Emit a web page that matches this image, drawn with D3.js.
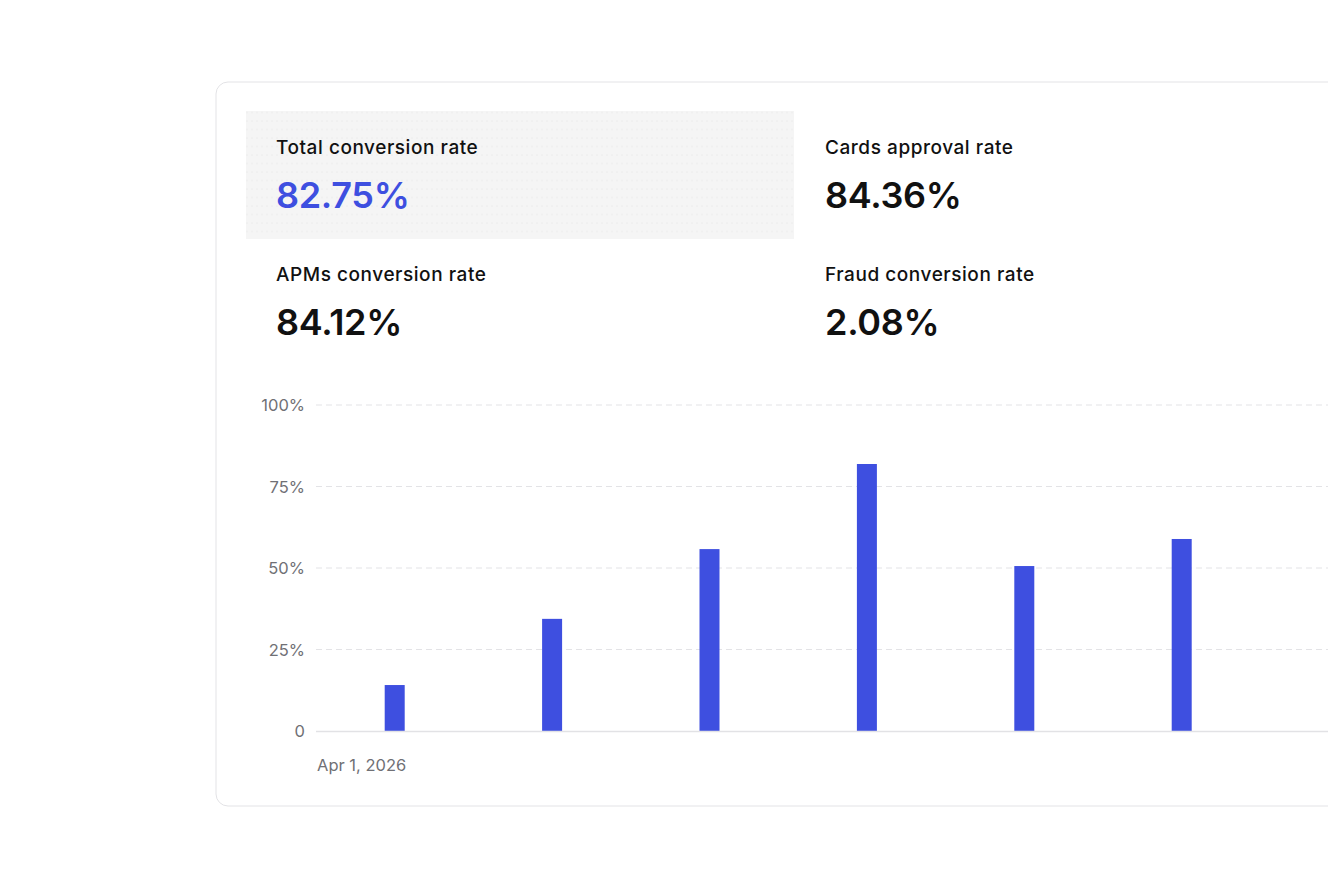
<!DOCTYPE html>
<html><head><meta charset="utf-8">
<script src="https://cdn.jsdelivr.net/npm/d3@7/dist/d3.min.js"></script>
<style>
html,body{margin:0;padding:0;background:#fff;}
svg{display:block;font-family:Inter,"Noto Sans",sans-serif;}
</style></head>
<body><svg id="c" width="1328" height="888"></svg>
<script>
// ---- data ----
const categories = ["Apr 1, 2026","Apr 2, 2026","Apr 3, 2026","Apr 4, 2026","Apr 5, 2026","Apr 6, 2026"];
const conversionValues = [14.1, 34.4, 55.8, 81.9, 50.6, 58.9];
const yTicks = [0, 25, 50, 75, 100];
const yTickLabels = ["0", "25%", "50%", "75%", "100%"];
const xTickLabels = ["Apr 1, 2026", "", "", "", "", ""];
const metricLabels = ["Total conversion rate", "Cards approval rate", "APMs conversion rate", "Fraud conversion rate"];
const metricValues = ["82.75%", "84.36%", "84.12%", "2.08%"];

const svg = d3.select("#c");
const blue = "#3e4fe0";

// pattern for highlighted tile
const defs = svg.append("defs");
const pat = defs.append("pattern").attr("id","dots").attr("width",10).attr("height",8.5)
  .attr("patternUnits","userSpaceOnUse");
pat.append("rect").attr("width",10).attr("height",8.5).attr("fill","#f5f5f5");
pat.append("circle").attr("cx",2).attr("cy",2).attr("r",0.6).attr("fill","#e4e4e4");
pat.append("circle").attr("cx",7).attr("cy",2).attr("r",0.6).attr("fill","#e4e4e4");

// card
svg.append("rect").attr("x",216).attr("y",82).attr("width",1200).attr("height",724)
  .attr("rx",12).attr("fill","#fff").attr("stroke","#e3e3e6").attr("stroke-width",1);

// highlighted tile
svg.append("rect").attr("x",246).attr("y",111).attr("width",548).attr("height",128)
  .attr("fill","url(#dots)");

// metrics
const colX = [276, 825];
const rowLabelY = [154, 281];
const rowValueY = [208, 335];
metricLabels.forEach((lab, i) => {
  const cx = colX[i % 2], r = Math.floor(i / 2);
  svg.append("text").attr("x", cx).attr("y", rowLabelY[r])
    .attr("font-size", 19).attr("font-weight", 500).attr("fill", "#111")
    .attr("letter-spacing", 0.55)
    .text(lab);
  svg.append("text").attr("x", cx).attr("y", rowValueY[r])
    .attr("font-size", 36).attr("font-weight", 600).attr("fill", i === 0 ? blue : "#111")
    .attr("letter-spacing", -0.3)
    .text(metricValues[i]);
});

// chart
const plotLeft = 316, plotRight = 1260.4, gridRight = 1328;
const y = d3.scaleLinear().domain([0, 100]).range([731, 405]);
const step = (plotRight - plotLeft) / categories.length;
const pIn = 1 - 20 / step;
const x = d3.scaleBand().domain(categories).range([plotLeft, plotRight])
  .paddingInner(pIn).paddingOuter(pIn / 2);

// grid
const g = svg.append("g");
g.selectAll("line.grid").data(yTicks.filter(t => t > 0)).enter().append("line")
  .attr("x1", plotLeft).attr("x2", gridRight)
  .attr("y1", d => y(d)).attr("y2", d => y(d))
  .attr("stroke", "#e3e3e6").attr("stroke-width", 1).attr("stroke-dasharray", "6 4");

// y axis labels
const yAxis = d3.axisLeft(y).tickValues(yTicks).tickSize(0).tickPadding(0)
  .tickFormat((d, i) => yTickLabels[i]);
const ya = svg.append("g").attr("transform", "translate(305,0)").call(yAxis);
ya.select(".domain").remove();
ya.selectAll("text").attr("font-size", 16.5).attr("fill", "#707075")
  .attr("font-family", "Inter,'Noto Sans',sans-serif").attr("dy", "0.36em");

// bars
svg.append("g").selectAll("rect").data(conversionValues).enter().append("rect")
  .attr("x", (d, i) => x(categories[i])).attr("width", x.bandwidth())
  .attr("y", d => y(d)).attr("height", d => y(0) - y(d))
  .attr("fill", blue);

// baseline
svg.append("line").attr("x1", plotLeft).attr("x2", gridRight)
  .attr("y1", y(0) + 0.5).attr("y2", y(0) + 0.5)
  .attr("stroke", "#e2e2e5").attr("stroke-width", 1.5);

// x axis labels
const xAxis = d3.axisBottom(x).tickSize(0).tickPadding(0)
  .tickFormat((d, i) => xTickLabels[i]);
const xa = svg.append("g").attr("transform", `translate(0,${y(0)})`).call(xAxis);
xa.select(".domain").remove();
xa.selectAll(".tick").attr("transform", (d, i) => `translate(${plotLeft + i * step + 1},0)`);
xa.selectAll("text").attr("font-size", 16.5).attr("fill", "#707075")
  .attr("font-family", "Inter,'Noto Sans',sans-serif")
  .attr("text-anchor", "start").attr("y", 40).attr("dy", 0);
</script></body></html>
